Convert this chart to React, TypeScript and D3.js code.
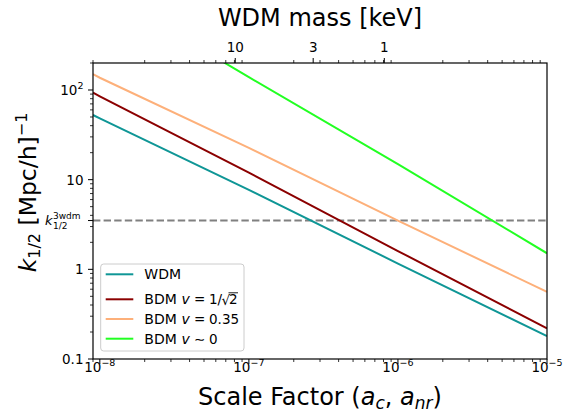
import React from "react";
import * as d3 from "d3";

// ---- data ----
const scaleFactors = [9e-9, 1e-8, 1e-7, 1e-6, 1e-5];
const wdmK = [52.6, 48.2, 7.7, 1.16, 0.18];
const bdmSqrt2K = [93.3, 85.0, 12.0, 1.6, 0.22];
const bdm035K = [150, 137, 22.6, 3.5, 0.56];
const greenScaleFactors = [6e-8, 1e-7, 1e-6, 1e-5];
const bdmZeroK = [230, 139, 14.9, 1.51];

const kHalf3wdm = 3.5;
const wdmMassTicks = [10, 3, 1];
const massToA = (m: number) => 8.1e-7 / m;

const xMajorTicks = [1e-8, 1e-7, 1e-6, 1e-5];
const xMajorExp = ["−8", "−7", "−6", "−5"];
const yMajorTicks = [0.1, 1, 10, 100];

const W = 563, H = 412;
const L = 93, R = 547, T = 63, B = 359;
const FONT = "DejaVu Sans, sans-serif";

const series = [
  { label: "WDM", color: "#0f9696", xs: scaleFactors, ys: wdmK },
  { label: "sqrt2", color: "#8b0000", xs: scaleFactors, ys: bdmSqrt2K },
  { label: "035", color: "#fdb07a", xs: scaleFactors, ys: bdm035K },
  { label: "zero", color: "#22ff22", xs: greenScaleFactors, ys: bdmZeroK },
];

export default function App() {
  const x = d3.scaleLog().domain([9e-9, 1e-5]).range([L, R]);
  const y = d3.scaleLog().domain([0.1, 200]).range([B, T]);

  const xMinor: number[] = [];
  for (let e = -9; e <= -6; e++) {
    for (let k = 2; k <= 9; k++) {
      const v = k * Math.pow(10, e);
      if (v >= 8.99e-9 && v <= 1.0001e-5) xMinor.push(v);
    }
  }
  const yMinor: number[] = [];
  for (let e = -1; e <= 2; e++) {
    for (let k = 2; k <= 9; k++) {
      const v = k * Math.pow(10, e);
      if (v <= 200.01) yMinor.push(v);
    }
  }

  const line = d3
    .line<[number, number]>()
    .x((d) => x(d[0]))
    .y((d) => y(d[1]));

  const legendRows = [
    { color: series[0].color, cy: 274.3 },
    { color: series[1].color, cy: 299.3 },
    { color: series[2].color, cy: 319 },
    { color: series[3].color, cy: 338.7 },
  ];
  const LX = 144.3;
  const lb = (i: number) => legendRows[i].cy + 5;
  const LF = 14;
  const MF = 13.5;

  return (
    <svg
      width={W}
      height={H}
      style={{ position: "absolute", left: 0, top: 0, background: "#fff" }}
      fontFamily={FONT}
    >
      <defs>
        <clipPath id="plotclip">
          <rect x={L} y={T} width={R - L} height={B - T} />
        </clipPath>
      </defs>
      <rect x={0} y={0} width={W} height={H} fill="#fff" />

      {/* data lines */}
      <g clipPath="url(#plotclip)">
        <line
          x1={L}
          x2={R}
          y1={y(kHalf3wdm)}
          y2={y(kHalf3wdm)}
          stroke="#808080"
          strokeWidth={2}
          strokeDasharray="7.4,3.2"
        />
        {series.map((s, i) => (
          <path
            key={i}
            d={line(s.xs.map((a, j) => [a, s.ys[j]] as [number, number])) || ""}
            fill="none"
            stroke={s.color}
            strokeWidth={2}
          />
        ))}
      </g>

      {/* spines */}
      <rect x={L} y={T} width={R - L} height={B - T} fill="none" stroke="#000" strokeWidth={1.2} />

      {/* bottom axis */}
      {xMajorTicks.map((v, i) => (
        <g key={"xb" + i}>
          <line x1={x(v)} x2={x(v)} y1={B} y2={B + 5} stroke="#000" strokeWidth={1} />
          <text x={x(v)} y={371.5} textAnchor="middle" fontSize={13.5} fill="#000">
            10
            <tspan dy={-6} fontSize={9.5}>
              {xMajorExp[i]}
            </tspan>
          </text>
        </g>
      ))}
      {xMinor.map((v, i) => (
        <line key={"xbm" + i} x1={x(v)} x2={x(v)} y1={B} y2={B + 3} stroke="#000" strokeWidth={0.8} />
      ))}
      <text x={(L + R) / 2} y={405} textAnchor="middle" fontSize={24} fill="#000">
        Scale Factor (
        <tspan fontStyle="italic">a</tspan>
        <tspan fontStyle="italic" fontSize={17} dy={4}>c</tspan>
        <tspan dy={-4}>, </tspan>
        <tspan fontStyle="italic">a</tspan>
        <tspan fontStyle="italic" fontSize={17} dy={4}>nr</tspan>
        <tspan dy={-4}>)</tspan>
      </text>

      {/* top axis */}
      {xMinor
        .filter((v) => Math.abs(Math.log10(v) - Math.round(Math.log10(v))) > 1e-6)
        .map((v, i) => (
          <line key={"xtm" + i} x1={x(v)} x2={x(v)} y1={T} y2={T - 3} stroke="#000" strokeWidth={0.8} />
        ))}
      {wdmMassTicks.map((m, i) => (
        <g key={"xt" + i}>
          <line x1={x(massToA(m))} x2={x(massToA(m))} y1={T} y2={T - 5} stroke="#000" strokeWidth={1} />
          <text x={x(massToA(m))} y={51.5} textAnchor="middle" fontSize={13.5} fill="#000">
            {String(m)}
          </text>
        </g>
      ))}
      <text x={(L + R) / 2} y={26} textAnchor="middle" fontSize={24} fill="#000">
        WDM mass [keV]
      </text>

      {/* left axis */}
      {yMinor.map((v, i) => (
        <line key={"ym" + i} x1={L} x2={L - 3} y1={y(v)} y2={y(v)} stroke="#000" strokeWidth={0.8} />
      ))}
      {yMajorTicks.map((v, i) => (
        <line key={"yM" + i} x1={L} x2={L - 5} y1={y(v)} y2={y(v)} stroke="#000" strokeWidth={1} />
      ))}
      <line x1={L} x2={L - 5} y1={y(kHalf3wdm)} y2={y(kHalf3wdm)} stroke="#000" strokeWidth={1} />
      <text x={83.5} y={y(100) + 5} textAnchor="end" fontSize={13.5} fill="#000">
        10<tspan dy={-6} fontSize={9.5}>2</tspan>
      </text>
      <text x={83.5} y={y(10) + 5} textAnchor="end" fontSize={13.5} fill="#000">10</text>
      <text x={83.5} y={y(1) + 5} textAnchor="end" fontSize={13.5} fill="#000">1</text>
      <text x={83.5} y={y(0.1) + 5} textAnchor="end" fontSize={13.5} fill="#000">0.1</text>
      <g>
        <text x={45} y={y(kHalf3wdm) + 4} fontSize={13} fontStyle="italic" fill="#000">k</text>
        <text x={53} y={y(kHalf3wdm) - 2} fontSize={9} fill="#000">3wdm</text>
        <text x={53} y={y(kHalf3wdm) + 8} fontSize={9} fill="#000">1/2</text>
      </g>
      <text
        transform={`translate(36,192.5) rotate(-90)`}
        textAnchor="middle"
        fontSize={23.5}
        fill="#000"
      >
        <tspan fontStyle="italic">k</tspan>
        <tspan fontSize={16} dy={4}>1/2</tspan>
        <tspan dy={-4}> [Mpc/h]</tspan>
        <tspan fontSize={16} dy={-9}>−1</tspan>
      </text>

      {/* legend */}
      <rect x={100.7} y={264} width={143.3} height={87} rx={3} fill="#fff" fillOpacity={0.8} stroke="#cccccc" strokeWidth={1} />
      {legendRows.map((r, i) => (
        <line key={"lg" + i} x1={105.7} x2={133.3} y1={r.cy} y2={r.cy} stroke={r.color} strokeWidth={2} />
      ))}
      <text x={LX} y={lb(0)} fontSize={LF} fill="#000">WDM</text>

      <text x={LX} y={lb(1)} fontSize={LF} fill="#000">BDM</text>
      <text x={181.5} y={lb(1)} fontSize={LF} fontStyle="italic" fill="#000">v</text>
      <text x={194} y={lb(1)} fontSize={MF} fill="#000">=</text>
      <text x={209} y={lb(1)} fontSize={MF} fill="#000">1/</text>
      <text x={221.5} y={lb(1) + 1} fontSize={MF} fill="#000">√</text>
      <line x1={228.5} x2={238} y1={lb(1) - 11.5} y2={lb(1) - 11.5} stroke="#000" strokeWidth={0.9} />
      <text x={229} y={lb(1)} fontSize={MF} fill="#000">2</text>

      <text x={LX} y={lb(2)} fontSize={LF} fill="#000">BDM</text>
      <text x={181.5} y={lb(2)} fontSize={LF} fontStyle="italic" fill="#000">v</text>
      <text x={194} y={lb(2)} fontSize={MF} fill="#000">=</text>
      <text x={209} y={lb(2)} fontSize={MF} fill="#000">0.35</text>

      <text x={LX} y={lb(3)} fontSize={LF} fill="#000">BDM</text>
      <text x={181.5} y={lb(3)} fontSize={LF} fontStyle="italic" fill="#000">v</text>
      <text x={194} y={lb(3)} fontSize={MF} fill="#000">∼</text>
      <text x={209} y={lb(3)} fontSize={MF} fill="#000">0</text>
    </svg>
  );
}
